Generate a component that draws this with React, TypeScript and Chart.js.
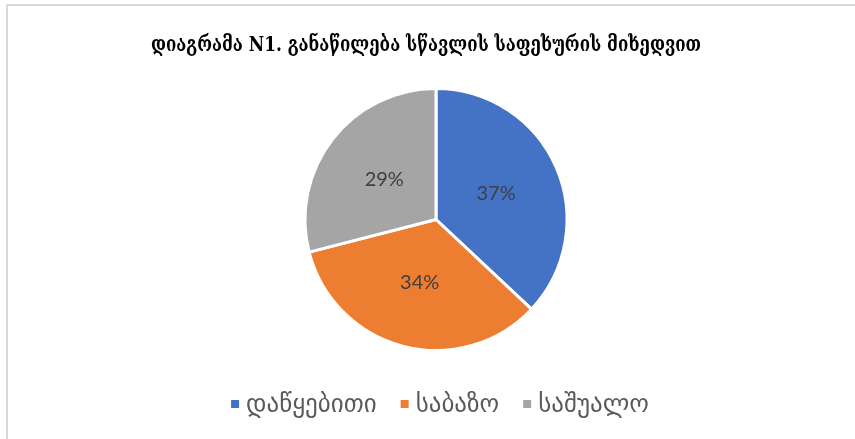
import React, { useEffect, useRef } from "react";
import { Chart, registerables } from "chart.js";

Chart.register(...registerables);

const titleText = "დიაგრამა N1. განაწილება სწავლის საფეხურის მიხედვით";
const categories = ["დაწყებითი", "საბაზო", "საშუალო"];
const values = [37, 34, 29];
const colors = ["#4472C4", "#ED7D31", "#A5A5A5"];

const W = 855;
const H = 439;

export default function App() {
  const ref = useRef<HTMLCanvasElement | null>(null);

  useEffect(() => {
    if (!ref.current) return;
    const total = values.reduce((a, b) => a + b, 0);

    const framePlugin = {
      id: "frame",
      beforeDraw(chart: any) {
        const ctx = chart.ctx;
        ctx.save();
        ctx.fillStyle = "#ffffff";
        ctx.fillRect(0, 0, chart.width, chart.height);
        ctx.fillStyle = "#d9d9d9";
        ctx.fillRect(6, 4, chart.width - 6, 2);
        ctx.fillRect(6, 4, 2, chart.height - 4);
        ctx.restore();
      },
      afterDraw(chart: any) {
        const ctx = chart.ctx;
        ctx.save();
        ctx.font = "bold 21px 'DejaVu Serif', serif";
        ctx.fillStyle = "#000000";
        ctx.textAlign = "center";
        ctx.textBaseline = "middle";
        ctx.fillText(titleText, 426, 46, 550);
        ctx.restore();
      },
    };

    const labelPlugin = {
      id: "sliceLabels",
      afterDatasetsDraw(chart: any) {
        const ctx = chart.ctx;
        const meta = chart.getDatasetMeta(0);
        ctx.save();
        ctx.font = "20px Lato, 'Open Sans', sans-serif";
        ctx.fillStyle = "#404040";
        ctx.textAlign = "center";
        ctx.textBaseline = "middle";
        meta.data.forEach((arc: any, i: number) => {
          const p = arc.getProps(["x", "y", "startAngle", "endAngle", "outerRadius"], true);
          const mid = (p.startAngle + p.endAngle) / 2;
          const r = p.outerRadius * 0.5;
          const pct = Math.round((values[i] / total) * 100) + "%";
          ctx.fillText(pct, p.x + Math.cos(mid) * r, p.y + Math.sin(mid) * r, 40);
        });
        ctx.restore();
      },
    };

    const legendPlugin = {
      id: "customLegend",
      afterDraw(chart: any) {
        const ctx = chart.ctx;
        ctx.save();
        ctx.font = "25px 'DejaVu Sans', sans-serif";
        const box = 8;
        const gap = 7;
        const itemGap = 24;
        const widths = categories.map((c) => ctx.measureText(c).width);
        const totalW = widths.reduce((a, w) => a + box + gap + w, 0) + itemGap * (categories.length - 1);
        let x = 440 - totalW / 2;
        const y = 405;
        ctx.textBaseline = "middle";
        ctx.textAlign = "left";
        categories.forEach((c, i) => {
          ctx.fillStyle = colors[i];
          ctx.fillRect(x, y - box / 2 - 1, box, box);
          x += box + gap;
          ctx.fillStyle = "#595959";
          ctx.fillText(c, x, y);
          x += widths[i] + itemGap;
        });
        ctx.restore();
      },
    };

    const chart = new Chart(ref.current, {
      type: "pie",
      data: {
        labels: categories,
        datasets: [
          {
            data: values,
            backgroundColor: colors,
            borderColor: "#ffffff",
            borderWidth: 3,
          },
        ],
      },
      options: {
        responsive: false,
        animation: false,
        layout: { padding: { left: 17, right: 0, top: 87, bottom: 87 } },
        plugins: {
          legend: { display: false },
          tooltip: { enabled: false },
          title: { display: false },
        },
      },
      plugins: [framePlugin, labelPlugin, legendPlugin],
    });
    return () => chart.destroy();
  }, []);

  return (
    <div style={{ position: "absolute", left: 0, top: 0, width: W, height: H }}>
      <canvas ref={ref} width={W} height={H} style={{ width: W, height: H, display: "block" }} />
    </div>
  );
}
